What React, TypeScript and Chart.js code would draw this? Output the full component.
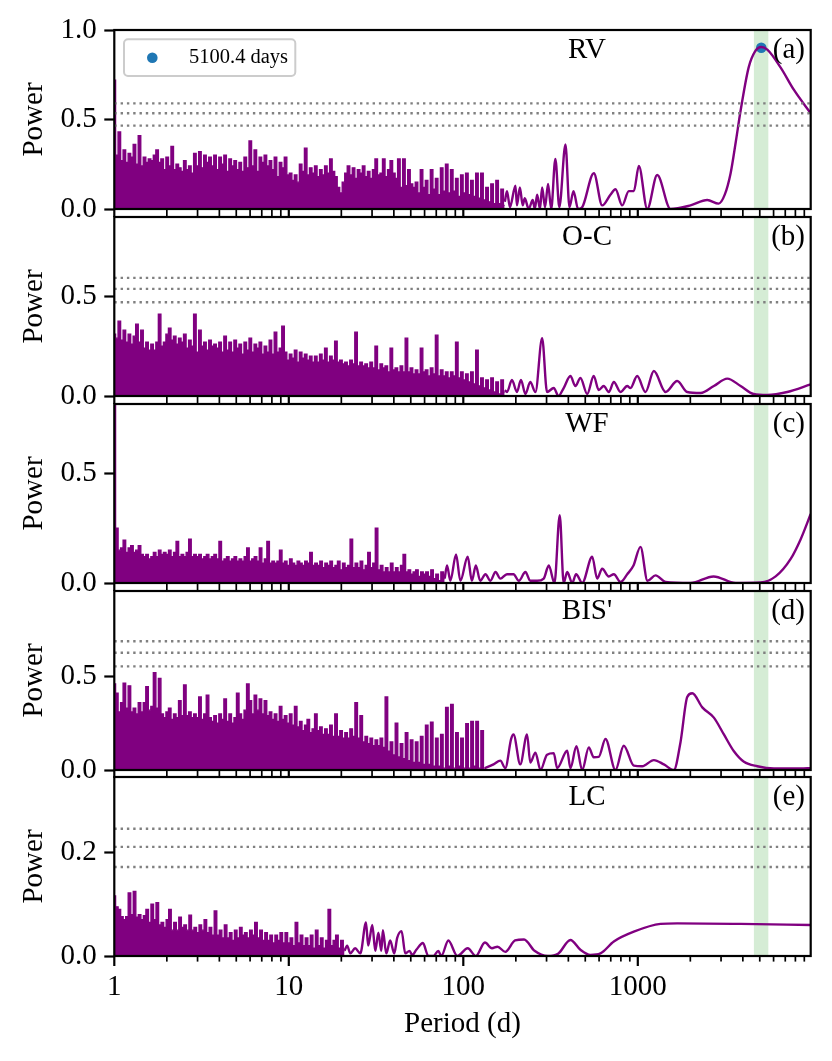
import React, { useEffect, useRef } from "react";
import { Chart, registerables } from "chart.js";

Chart.register(...registerables);

// ---------------- data ----------------
const PERIOD_MIN = 1;
const PERIOD_MAX = 9792;
const BEST_PERIOD = 5100.4;
const BEST_POWER = 0.901;
const BAND_LO = 4627;
const BAND_HI = 5598;

const X_TICKS = [
  1, 2, 3, 4, 5, 6, 7, 8, 9,
  10, 20, 30, 40, 50, 60, 70, 80, 90,
  100, 200, 300, 400, 500, 600, 700, 800, 900,
  1000, 2000, 3000, 4000, 5000, 6000, 7000, 8000, 9000,
];
const X_MAJOR = [1, 10, 100, 1000];

const PANEL_NAMES = ["RV", "O-C", "WF", "BIS'", "LC"];
const PANEL_LETTERS = ["(a)", "(b)", "(c)", "(d)", "(e)"];
const Y_MAX = [1.0, 0.897, 0.817, 0.957, 0.346];
const Y_TICKS = [[0, 0.5, 1.0], [0, 0.5], [0, 0.5], [0, 0.5], [0, 0.2]];
const FAP_RV = [0.59, 0.535, 0.466];
const FAP_OC = [0.592, 0.537, 0.47];
const FAP_WF: number[] = [];
const FAP_BIS = [0.688, 0.627, 0.554];
const FAP_LC = [0.246, 0.211, 0.172];

// dense (unresolved) part of each periodogram: peak/trough powers sampled on a
// log-uniform period grid from 1 d up to the given end period
const RV_DENSE_END = 172.6;
const RV_DENSE = [
  0.72, 0.30, 0.43, 0.27, 0.33, 0.26, 0.31, 0.29, 0.36, 0.25, 0.41, 0.24,
  0.29, 0.26, 0.28, 0.27, 0.30, 0.33, 0.26, 0.28, 0.22, 0.29, 0.24, 0.35,
  0.22, 0.25, 0.23, 0.21, 0.27, 0.22, 0.24, 0.20, 0.31, 0.24, 0.32, 0.23,
  0.30, 0.26, 0.29, 0.24, 0.30, 0.22, 0.29, 0.25, 0.30, 0.21, 0.28, 0.24,
  0.27, 0.22, 0.26, 0.21, 0.29, 0.23, 0.38, 0.24, 0.33, 0.21, 0.29, 0.26,
  0.30, 0.24, 0.27, 0.22, 0.29, 0.18, 0.26, 0.23, 0.29, 0.19, 0.20, 0.16,
  0.19, 0.15, 0.25, 0.21, 0.34, 0.19, 0.23, 0.20, 0.24, 0.18, 0.22, 0.19,
  0.24, 0.20, 0.28, 0.21, 0.18, 0.12, 0.09, 0.15, 0.20, 0.24, 0.19, 0.23,
  0.17, 0.22, 0.20, 0.24, 0.18, 0.21, 0.17, 0.22, 0.28, 0.19, 0.20, 0.28,
  0.18, 0.22, 0.27, 0.20, 0.17, 0.28, 0.12, 0.28, 0.13, 0.22, 0.14, 0.12,
  0.15, 0.09, 0.22, 0.12, 0.16, 0.08, 0.22, 0.11, 0.17, 0.08, 0.23, 0.10,
  0.25, 0.09, 0.22, 0.10, 0.17, 0.07, 0.19, 0.09, 0.20, 0.08, 0.16, 0.07,
  0.20, 0.06, 0.20, 0.05, 0.12, 0.04, 0.14, 0.03, 0.16, 0.03, 0.11, 0.02,
];
const RV_LINE: [number, number][] = [
  [173, 0.04], [178, 0.10], [185, 0.01], [199, 0.13], [203, 0.02], [211, 0.12],
  [219, 0.02], [225, 0.06], [237, 0.0], [250, 0.05], [257, 0.0], [265, 0.08],
  [275, 0.0], [283, 0.12], [294, 0.01], [306, 0.14], [319, 0.0], [337, 0.28],
  [355, 0.01], [385, 0.36], [406, 0.01], [428, 0.10], [455, 0.0], [480, 0.01],
  [560, 0.20], [625, 0.02], [697, 0.08], [745, 0.11], [814, 0.02], [888, 0.10],
  [949, 0.10], [1014, 0.24], [1133, 0.0], [1292, 0.19], [1540, 0.0], [2005, 0.02],
  [2500, 0.05], [2905, 0.03], [3150, 0.08], [3404, 0.2], [3650, 0.38], [3884, 0.55],
  [4316, 0.79], [4700, 0.88], [5100, 0.905], [5525, 0.89], [6590, 0.79],
  [7852, 0.665], [9792, 0.535],
];

const OC_DENSE_END = 172.6;
const OC_DENSE = [
  0.31, 0.29, 0.375, 0.28, 0.33, 0.27, 0.31, 0.26, 0.30, 0.36, 0.27, 0.33,
  0.24, 0.27, 0.23, 0.26, 0.23, 0.27, 0.41, 0.25, 0.27, 0.31, 0.34, 0.28,
  0.30, 0.26, 0.29, 0.27, 0.31, 0.24, 0.28, 0.25, 0.41, 0.22, 0.33, 0.25,
  0.27, 0.23, 0.28, 0.25, 0.26, 0.24, 0.27, 0.22, 0.30, 0.23, 0.27, 0.22,
  0.28, 0.24, 0.26, 0.21, 0.27, 0.23, 0.29, 0.22, 0.26, 0.24, 0.27, 0.21,
  0.25, 0.22, 0.28, 0.21, 0.32, 0.22, 0.24, 0.35, 0.22, 0.18, 0.21, 0.19,
  0.23, 0.17, 0.22, 0.19, 0.21, 0.18, 0.20, 0.17, 0.20, 0.17, 0.21, 0.18,
  0.24, 0.17, 0.20, 0.18, 0.275, 0.17, 0.18, 0.16, 0.17, 0.15, 0.18, 0.16,
  0.32, 0.15, 0.17, 0.15, 0.16, 0.14, 0.17, 0.14, 0.25, 0.13, 0.16, 0.14,
  0.15, 0.12, 0.24, 0.13, 0.14, 0.12, 0.15, 0.12, 0.29, 0.12, 0.14, 0.11,
  0.13, 0.11, 0.24, 0.12, 0.13, 0.10, 0.14, 0.11, 0.305, 0.10, 0.13, 0.10,
  0.12, 0.09, 0.12, 0.10, 0.27, 0.09, 0.12, 0.08, 0.11, 0.07, 0.12, 0.06,
  0.23, 0.05, 0.09, 0.04, 0.08, 0.03, 0.09, 0.02, 0.07, 0.01, 0.08, 0.02,
];
const OC_LINE: [number, number][] = [
  [173, 0.03], [178, 0.02], [190, 0.08], [203, 0.02], [214, 0.08], [227, 0.01],
  [242, 0.07], [259, 0.02], [283, 0.29], [302, 0.02], [330, 0.04], [351, 0.0],
  [376, 0.04], [411, 0.10], [439, 0.05], [469, 0.09], [513, 0.01], [559, 0.10],
  [597, 0.03], [638, 0.05], [682, 0.02], [729, 0.07], [796, 0.02], [870, 0.05],
  [908, 0.04], [992, 0.10], [1107, 0.02], [1236, 0.125], [1442, 0.02], [1683, 0.075],
  [1920, 0.02], [2290, 0.015], [2729, 0.05], [3257, 0.087], [3883, 0.05],
  [4611, 0.01], [5525, 0.005], [7194, 0.02], [9792, 0.058],
];

const WF_DENSE_END = 78.2;
const WF_DENSE = [
  1.0, 0.25, 0.15, 0.16, 0.195, 0.14, 0.16, 0.17, 0.14, 0.15, 0.17, 0.13,
  0.12, 0.13, 0.11, 0.12, 0.14, 0.12, 0.15, 0.13, 0.14, 0.13, 0.15, 0.12,
  0.14, 0.19, 0.12, 0.13, 0.12, 0.14, 0.20, 0.12, 0.13, 0.12, 0.13, 0.11,
  0.12, 0.13, 0.11, 0.12, 0.13, 0.11, 0.19, 0.10, 0.11, 0.12, 0.10, 0.11,
  0.12, 0.10, 0.11, 0.10, 0.12, 0.16, 0.10, 0.11, 0.12, 0.10, 0.16, 0.09,
  0.11, 0.19, 0.09, 0.10, 0.09, 0.10, 0.15, 0.09, 0.10, 0.08, 0.11, 0.09,
  0.08, 0.10, 0.09, 0.08, 0.10, 0.09, 0.14, 0.08, 0.09, 0.08, 0.10, 0.07,
  0.09, 0.08, 0.10, 0.07, 0.08, 0.10, 0.06, 0.09, 0.07, 0.08, 0.20, 0.07,
  0.09, 0.07, 0.10, 0.06, 0.08, 0.14, 0.07, 0.09, 0.25, 0.06, 0.08, 0.05,
  0.07, 0.05, 0.09, 0.05, 0.07, 0.05, 0.08, 0.13, 0.05, 0.06, 0.04, 0.05,
  0.06, 0.03, 0.05, 0.04, 0.05, 0.03, 0.06, 0.02, 0.04, 0.01, 0.05, 0.02,
];
const WF_LINE: [number, number][] = [
  [78.2, 0.02], [80.7, 0.08], [84.3, 0.01], [90.9, 0.13], [96.2, 0.01], [106, 0.12],
  [112, 0.01], [118, 0.08], [125, 0.01], [134, 0.04], [143, 0.01], [153, 0.05],
  [163, 0.02], [178, 0.04], [194, 0.04], [208, 0.01], [227, 0.05], [242, 0.01],
  [265, 0.01], [289, 0.02], [309, 0.08], [333, 0.0], [357, 0.31], [376, 0.0],
  [394, 0.05], [421, 0.0], [443, 0.04], [480, 0.0], [548, 0.12], [585, 0.02],
  [625, 0.065], [682, 0.03], [729, 0.04], [796, 0.005], [870, 0.04], [945, 0.08],
  [1036, 0.165], [1137, 0.01], [1264, 0.035], [1442, 0.005], [2006, 0.0],
  [2718, 0.03], [3635, 0.0], [5058, 0.002], [6166, 0.03], [7518, 0.11],
  [8580, 0.2], [9792, 0.315],
];

const BIS_DENSE_END = 132.6;
const BIS_DENSE = [
  0.46, 0.41, 0.31, 0.36, 0.464, 0.33, 0.45, 0.31, 0.33, 0.30, 0.36, 0.31,
  0.36, 0.446, 0.32, 0.34, 0.52, 0.33, 0.49, 0.30, 0.28, 0.31, 0.33, 0.27,
  0.30, 0.28, 0.37, 0.29, 0.455, 0.29, 0.31, 0.28, 0.30, 0.28, 0.39, 0.27,
  0.30, 0.40, 0.28, 0.26, 0.29, 0.25, 0.30, 0.27, 0.38, 0.26, 0.30, 0.25,
  0.28, 0.41, 0.30, 0.27, 0.32, 0.46, 0.37, 0.30, 0.40, 0.32, 0.38, 0.30,
  0.37, 0.29, 0.31, 0.27, 0.30, 0.26, 0.34, 0.27, 0.29, 0.25, 0.30, 0.24,
  0.34, 0.23, 0.26, 0.21, 0.24, 0.27, 0.20, 0.22, 0.30, 0.21, 0.23, 0.19,
  0.22, 0.19, 0.24, 0.18, 0.30, 0.18, 0.21, 0.17, 0.20, 0.17, 0.22, 0.18,
  0.36, 0.17, 0.29, 0.15, 0.18, 0.14, 0.17, 0.13, 0.16, 0.13, 0.17, 0.12,
  0.39, 0.10, 0.15, 0.08, 0.25, 0.07, 0.14, 0.06, 0.20, 0.05, 0.16, 0.04,
  0.15, 0.04, 0.18, 0.03, 0.24, 0.03, 0.255, 0.02, 0.17, 0.02, 0.19, 0.01,
  0.335, 0.02, 0.35, 0.01, 0.20, 0.02, 0.17, 0.01, 0.247, 0.01, 0.26, 0.02,
  0.26, 0.01, 0.21, 0.01,
];
const BIS_LINE: [number, number][] = [
  [132.6, 0.01], [137, 0.015], [149, 0.03], [163, 0.05], [174, 0.01], [188, 0.166],
  [194, 0.19], [212, 0.03], [232, 0.19], [242, 0.04], [259, 0.093], [277, 0.0],
  [302, 0.082], [330, 0.09], [345, 0.01], [394, 0.103], [411, 0.01], [445, 0.127],
  [480, 0.0], [524, 0.121], [559, 0.068], [597, 0.07], [653, 0.166], [745, 0.0],
  [831, 0.13], [949, 0.023], [1060, 0.02], [1236, 0.053], [1410, 0.03], [1609, 0.0],
  [1758, 0.15], [1920, 0.39], [2052, 0.41], [2342, 0.335], [2729, 0.28], [3114, 0.19],
  [3555, 0.10], [4057, 0.044], [4842, 0.02], [6029, 0.008], [8580, 0.008], [9792, 0.01],
];

const LC_DENSE_END = 20.86;
const LC_DENSE = [
  0.116, 0.095, 0.09, 0.076, 0.07, 0.076, 0.122, 0.08, 0.125, 0.075, 0.08, 0.07,
  0.078, 0.09, 0.065, 0.10, 0.07, 0.103, 0.06, 0.065, 0.055, 0.07, 0.09, 0.05,
  0.065, 0.05, 0.075, 0.055, 0.06, 0.05, 0.079, 0.05, 0.055, 0.045, 0.06, 0.05,
  0.07, 0.045, 0.055, 0.04, 0.087, 0.04, 0.05, 0.035, 0.06, 0.035, 0.045, 0.03,
  0.05, 0.035, 0.055, 0.04, 0.045, 0.035, 0.05, 0.04, 0.065, 0.035, 0.05, 0.03,
  0.045, 0.03, 0.04, 0.025, 0.04, 0.03, 0.045, 0.025, 0.045, 0.025, 0.035, 0.02,
  0.065, 0.025, 0.04, 0.02, 0.035, 0.02, 0.04, 0.015, 0.05, 0.02, 0.035, 0.015,
  0.03, 0.09, 0.02, 0.03, 0.04, 0.015, 0.03, 0.01,
];
const LC_LINE: [number, number][] = [
  [20.86, 0.01], [21.6, 0.02], [22.5, 0.005], [24.0, 0.015], [25.7, 0.005], [27.7, 0.065],
  [28.5, 0.02], [30.1, 0.06], [31.3, 0.01], [32.6, 0.045], [33.9, 0.01], [34.6, 0.05],
  [36.2, 0.005], [38.1, 0.03], [40.2, 0.005], [41.8, 0.035], [44.3, 0.048], [46.5, 0.005],
  [49.2, 0.01], [51.0, 0.002], [53.8, 0.012], [58.7, 0.025], [63.0, 0.0], [67.5, 0.0],
  [71.9, 0.01], [74.8, 0.0], [82.1, 0.03], [92.4, 0.0], [106, 0.015], [118, 0.0],
  [133, 0.026], [146, 0.015], [157, 0.018], [174, 0.008], [198, 0.03], [223, 0.032],
  [256, 0.01], [305, 0.0], [351, 0.005], [411, 0.031], [469, 0.012], [535, 0.002],
  [611, 0.005], [729, 0.028], [949, 0.047], [1350, 0.062], [1683, 0.063],
  [3883, 0.062], [9792, 0.06],
];

const DENSE_SETS = [RV_DENSE, OC_DENSE, WF_DENSE, BIS_DENSE, LC_DENSE];
const DENSE_ENDS = [RV_DENSE_END, OC_DENSE_END, WF_DENSE_END, BIS_DENSE_END, LC_DENSE_END];
const LINE_SETS = [RV_LINE, OC_LINE, WF_LINE, BIS_LINE, LC_LINE];
const FAP_SETS = [FAP_RV, FAP_OC, FAP_WF, FAP_BIS, FAP_LC];

// ---------------- layout / style ----------------
const W = 832;
const H_TOTAL = 1061;
const PLOT_LEFT = 114.3;
const PLOT_RIGHT = 810.7;
const PANEL_TOPS = [30, 217.3, 404, 590.7, 777];
const PANEL_H = 179;
const PAD = 25;
const FONT = "'Liberation Serif', 'Times New Roman', Times, serif";
const PURPLE = "#800080";
const GRAY = "#808080";
const BLUE = "#1f77b4";

function denseGrid(values: number[], end: number) {
  const n = values.length;
  return values.map((v, i) => ({ x: PERIOD_MIN * Math.pow(end / PERIOD_MIN, i / (n - 1)), y: v }));
}

function makeDecor(index: number, isLast: boolean) {
  return {
    id: "decor" + index,
    beforeDatasetsDraw(chart: any) {
      const { ctx, chartArea: a, scales } = chart;
      const x = scales.x;
      const x0 = x.getPixelForValue(BAND_LO);
      const x1 = x.getPixelForValue(BAND_HI);
      ctx.save();
      ctx.fillStyle = "rgba(44,160,44,0.2)";
      ctx.fillRect(x0, a.top, x1 - x0, a.bottom - a.top);
      ctx.restore();
    },
    afterDraw(chart: any) {
      const { ctx, chartArea: a, scales } = chart;
      const x = scales.x;
      ctx.save();
      // frame
      ctx.strokeStyle = "#000";
      ctx.lineWidth = 2.2;
      ctx.strokeRect(a.left, a.top, a.right - a.left, a.bottom - a.top);
      // x tick marks
      for (const v of X_TICKS) {
        const px = x.getPixelForValue(v);
        const major = X_MAJOR.includes(v);
        const len = isLast ? (major ? 10 : 5.6) : 8;
        ctx.lineWidth = major ? 2.2 : 1.7;
        ctx.beginPath();
        ctx.moveTo(px, a.bottom);
        ctx.lineTo(px, a.bottom + len);
        ctx.stroke();
      }
      // y label
      ctx.fillStyle = "#000";
      ctx.font = `29px ${FONT}`;
      ctx.save();
      ctx.translate(41.7, (a.top + a.bottom) / 2);
      ctx.rotate(-Math.PI / 2);
      ctx.textAlign = "center";
      ctx.textBaseline = "alphabetic";
      ctx.fillText("Power", 0, 0);
      ctx.restore();
      // panel name and letter
      ctx.textBaseline = "alphabetic";
      ctx.textAlign = "center";
      ctx.fillText(PANEL_NAMES[index], 587, a.top + 27.5);
      ctx.textAlign = "right";
      ctx.fillText(PANEL_LETTERS[index], a.right - 5.7, a.top + 27.5);
      // legend
      if (index === 0) {
        const lx = a.left + 9.7, ly = a.top + 9.3, lw = 171.3, lh = 36.7, r = 4;
        ctx.beginPath();
        ctx.moveTo(lx + r, ly);
        ctx.lineTo(lx + lw - r, ly);
        ctx.arcTo(lx + lw, ly, lx + lw, ly + r, r);
        ctx.lineTo(lx + lw, ly + lh - r);
        ctx.arcTo(lx + lw, ly + lh, lx + lw - r, ly + lh, r);
        ctx.lineTo(lx + r, ly + lh);
        ctx.arcTo(lx, ly + lh, lx, ly + lh - r, r);
        ctx.lineTo(lx, ly + r);
        ctx.arcTo(lx, ly, lx + r, ly, r);
        ctx.closePath();
        ctx.fillStyle = "rgba(255,255,255,0.8)";
        ctx.fill();
        ctx.strokeStyle = "#cccccc";
        ctx.lineWidth = 2;
        ctx.stroke();
        ctx.fillStyle = BLUE;
        ctx.beginPath();
        ctx.arc(lx + 28.3, ly + 18.4, 5.3, 0, Math.PI * 2);
        ctx.fill();
        ctx.fillStyle = "#000";
        ctx.font = `20.5px ${FONT}`;
        ctx.textAlign = "left";
        ctx.fillText(`${BEST_PERIOD} days`, lx + 65, ly + 24);
      }
      ctx.restore();
    },
  };
}

function Panel({ index }: { index: number }) {
  const ref = useRef<HTMLCanvasElement>(null);
  const isLast = index === 4;
  const top = PANEL_TOPS[index] - PAD;
  const height = isLast ? H_TOTAL - top : PAD + PANEL_H + PAD;
  const xAxisH = height - PAD - PANEL_H;

  useEffect(() => {
    const datasets: any[] = [];
    datasets.push({
      data: denseGrid(DENSE_SETS[index], DENSE_ENDS[index]),
      borderColor: PURPLE,
      backgroundColor: PURPLE,
      borderWidth: 1.4,
      fill: "origin",
      stepped: "middle",
      pointRadius: 0,
      order: 2,
    });
    datasets.push({
      data: LINE_SETS[index].map(([p, v]) => ({ x: p, y: v })),
      borderColor: PURPLE,
      borderWidth: 2.4,
      fill: false,
      cubicInterpolationMode: "monotone",
      pointRadius: 0,
      order: 1,
    });
    for (const f of FAP_SETS[index]) {
      datasets.push({
        data: [{ x: PERIOD_MIN, y: f }, { x: PERIOD_MAX, y: f }],
        borderColor: GRAY,
        borderWidth: 2.4,
        borderDash: [2.4, 3.9],
        borderCapStyle: "butt",
        fill: false,
        pointRadius: 0,
        order: 0,
      });
    }
    if (index === 0) {
      datasets.push({
        data: [{ x: BEST_PERIOD, y: BEST_POWER }],
        showLine: false,
        pointRadius: 5.3,
        pointBackgroundColor: BLUE,
        pointBorderWidth: 0,
        order: 3,
      });
    }
    const tickFont = { family: FONT, size: 29, lineHeight: 1.2 };
    const xScale: any = {
      type: "logarithmic",
      min: PERIOD_MIN,
      max: PERIOD_MAX,
      bounds: "data",
      display: isLast,
      afterBuildTicks: (s: any) => {
        s.ticks = X_TICKS.map((v) => ({ value: v }));
      },
      grid: { display: false, drawTicks: false },
      border: { display: false },
      ticks: {
        autoSkip: false,
        maxRotation: 0,
        minRotation: 0,
        padding: 14,
        color: "#000",
        font: tickFont,
        callback: (v: any) => (X_MAJOR.includes(Number(v)) ? String(v) : ""),
      },
      title: {
        display: true,
        text: "Period (d)",
        color: "#000",
        font: tickFont,
        padding: { top: 0, bottom: 19 },
      },
    };
    if (isLast) {
      xScale.afterFit = (s: any) => {
        s.height = xAxisH;
      };
    }
    const chart = new Chart(ref.current as HTMLCanvasElement, {
      type: "line",
      data: { datasets },
      options: {
        animation: false,
        responsive: false,
        events: [],
        layout: { padding: { top: PAD, bottom: isLast ? 0 : PAD, left: 0, right: W - PLOT_RIGHT } },
        plugins: { legend: { display: false }, tooltip: { enabled: false } },
        scales: {
          x: xScale,
          y: {
            type: "linear",
            min: 0,
            max: Y_MAX[index],
            bounds: "data",
            afterBuildTicks: (s: any) => {
              s.ticks = Y_TICKS[index].map((v) => ({ value: v }));
            },
            afterFit: (s: any) => {
              s.width = PLOT_LEFT;
            },
            grid: {
              drawOnChartArea: false,
              drawTicks: true,
              tickLength: 10,
              tickWidth: 2.2,
              tickColor: "#000",
            },
            border: { display: false },
            ticks: {
              padding: 7.6,
              color: "#000",
              font: tickFont,
              callback: (v: any) => Number(v).toFixed(1),
            },
          },
        },
      } as any,
      plugins: [makeDecor(index, isLast)],
    });
    return () => chart.destroy();
  }, []);

  return (
    <canvas
      ref={ref}
      width={W}
      height={height}
      style={{ position: "absolute", left: 0, top, width: W, height }}
    />
  );
}

export default function App() {
  return (
    <div
      style={{
        position: "absolute",
        left: 0,
        top: 0,
        width: W,
        height: H_TOTAL,
        background: "#fff",
        overflow: "hidden",
      }}
    >
      {[0, 1, 2, 3, 4].map((i) => (
        <Panel key={i} index={i} />
      ))}
    </div>
  );
}
